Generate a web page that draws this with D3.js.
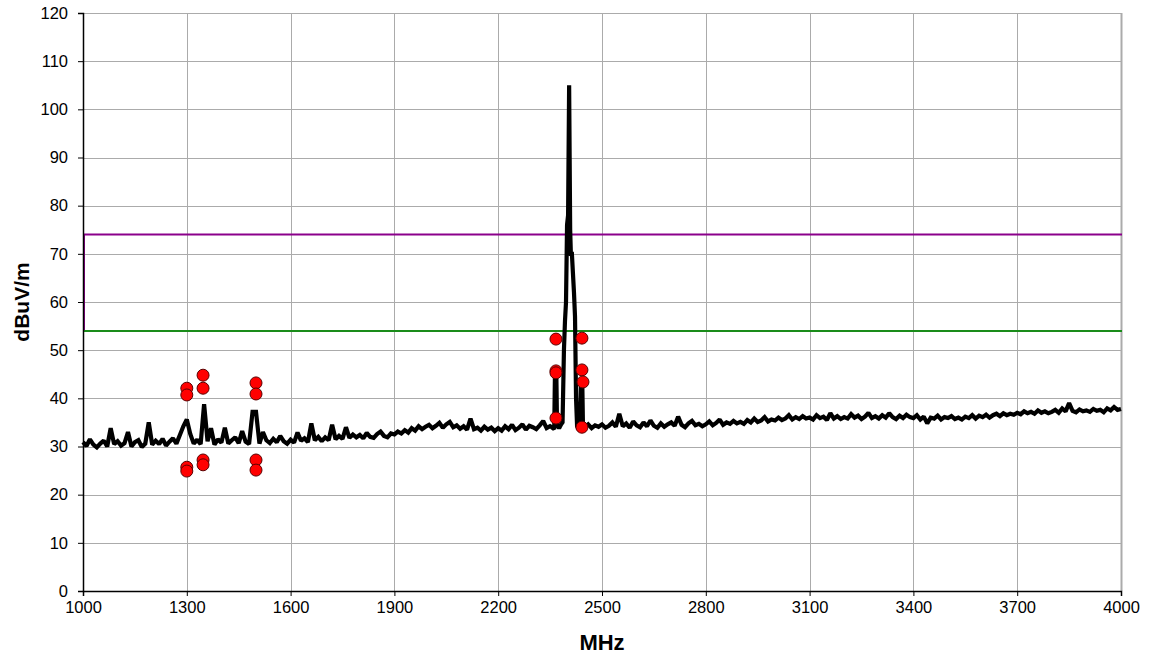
<!DOCTYPE html>
<html>
<head>
<meta charset="utf-8">
<script src="https://cdn.jsdelivr.net/npm/d3@7"></script>
<style>
    body { margin: 0; background: #fff; }
    #chart { width: 1156px; height: 659px; }
    .tick text { font-family: "Liberation Sans", Arial, sans-serif; font-size: 16.5px; fill: #000; }
    .axis-title { font-family: "Liberation Sans", Arial, sans-serif; font-weight: bold; text-anchor: middle; fill: #000; }
</style>
</head>
<body>
<div id="chart"></div>
<script>
// sweep levels (dBuV/m), one reading every 10 MHz from 1000 to 4000 MHz
const sweepStart = 1000;
const sweepStep = 10;
const sweepLevels = [
    30.9, 30.1, 31.5, 30.4, 29.8, 30.6, 31.2, 30.0, 33.8, 30.5,
    31.1, 30.2, 30.7, 33.0, 30.0, 30.9, 31.3, 29.9, 30.6, 35.0,
    30.4, 31.2, 30.5, 31.6, 30.2, 31.0, 31.7, 30.6, 32.4, 34.2,
    35.6, 32.6, 30.6, 31.4, 30.5, 38.8, 31.1, 33.8, 30.4, 31.5,
    30.8, 33.9, 30.6, 31.3, 31.9, 30.7, 33.2, 31.0, 30.5, 37.2,
    37.2, 30.6, 33.0, 31.3, 30.7, 31.6, 30.9, 32.2, 31.1, 30.6,
    31.4, 30.8, 32.9, 31.2, 31.7, 30.9, 34.8, 31.3, 32.0, 31.1,
    31.9, 31.3, 34.5, 31.5, 32.2, 31.6, 34.0, 31.8, 32.5, 31.9,
    32.4, 31.7, 32.8, 32.0, 31.8, 32.6, 33.1, 32.2, 31.9, 32.7,
    32.5, 33.1, 32.7, 33.4, 32.9, 33.8, 33.3, 34.2, 33.6, 34.1,
    34.5, 33.8, 34.3, 34.9, 33.9, 34.6, 35.1, 34.0, 34.4, 33.7,
    34.2, 33.5, 35.8, 33.6, 33.9, 33.3, 34.1, 33.5, 33.9, 33.2,
    33.8, 33.3, 34.2, 33.6, 34.5, 33.4, 33.9, 34.6, 33.5, 34.3,
    34.0, 33.6, 34.4, 35.3, 33.8, 34.2, 33.7, 34.0, 34.0, 34.0,
    34.0, 34.0, 34.0, 34.0, 34.0, 34.0, 34.6, 33.8, 34.4, 34.1,
    34.6, 33.9, 34.3, 35.0, 34.1, 36.8, 34.2, 34.8, 33.9, 35.2,
    34.4, 34.0, 35.0, 34.2, 35.4, 34.3, 33.9, 34.8, 34.1, 34.6,
    35.0, 34.3, 36.2, 34.5, 34.0, 34.8, 35.3, 34.4, 34.7, 34.2,
    34.6, 35.2, 34.4, 34.9, 35.6, 34.5, 35.0, 34.7, 35.3, 34.8,
    35.1, 34.7, 35.5, 35.0, 35.8, 35.1, 35.4, 36.1, 35.2, 35.6,
    35.4, 36.0, 35.5, 35.8, 36.5, 35.6, 36.1, 35.7, 36.3, 35.8,
    36.0, 35.6, 36.5, 35.9, 36.2, 35.5, 36.9, 35.8, 36.3, 35.7,
    36.1, 35.8, 36.7, 36.0, 36.4, 35.7, 36.2, 37.0, 35.9, 36.3,
    35.8, 36.5, 36.0, 36.9, 36.1, 35.7, 36.4, 35.9, 36.6, 36.1,
    35.9, 36.5, 35.6, 36.2, 34.8, 36.0, 35.8, 36.4, 35.6, 36.1,
    35.9, 36.3, 35.7, 36.0, 35.6, 36.2, 35.9, 36.5, 35.8, 36.4,
    36.1, 36.6, 36.0, 36.5, 36.8, 36.3, 36.9, 36.5, 36.8, 36.6,
    37.0, 36.7, 37.3, 36.9, 37.2, 36.8, 37.5, 37.0, 37.3, 36.9,
    37.2, 37.6, 37.0, 37.9, 37.3, 39.0, 37.4, 37.1, 37.7, 37.3,
    37.5, 37.2, 37.8, 37.4, 37.6, 37.1, 37.9, 37.5, 38.2, 37.6,
    37.8
];

// finer readings around the 2.4 GHz carrier (replace the sweep there)
const peakFreqs = [2355, 2362, 2364, 2368, 2370, 2376, 2382, 2386, 2390, 2393, 2396, 2399, 2402, 2405,
    2408, 2410, 2413, 2416, 2419, 2422, 2425, 2428, 2432, 2436, 2439, 2443, 2445, 2450];
const peakLevels = [34.0, 33.6, 45.0, 45.2, 34.5, 33.8, 34.6, 35.0, 50, 56, 60, 76, 78, 105,
    75, 70, 70, 66, 62, 57, 40, 34.2, 33.6, 34.0, 43.5, 43.3, 34.2, 34.0];

// measured emissions (red markers)
const markerFreqs = [1300, 1300, 1300, 1300, 1347, 1347, 1347, 1347, 1500, 1500, 1500, 1500,
    2367, 2367, 2367, 2367, 2442, 2442, 2445, 2442];
const markerLevels = [42.1, 40.7, 25.7, 24.9, 44.8, 42.1, 27.2, 26.2, 43.2, 40.9, 27.2, 25.1,
    52.3, 45.7, 45.3, 35.9, 52.5, 45.9, 43.4, 34.0];

// limit lines
const peakLimit = 74;
const avgLimit = 54;

const xTicks = [1000, 1300, 1600, 1900, 2200, 2500, 2800, 3100, 3400, 3700, 4000];
const yTicks = [0, 10, 20, 30, 40, 50, 60, 70, 80, 90, 100, 110, 120];

function renderChart() {
    const width = 1156;
    const height = 659;
    const margin = { left: 83, right: 35, top: 13, bottom: 68 };

    const svg = d3.select("#chart").append("svg")
        .attr("width", width)
        .attr("height", height);

    const xScale = d3.scaleLinear()
        .domain([1000, 4000])
        .range([margin.left, width - margin.right]);
    const yScale = d3.scaleLinear()
        .domain([0, 120])
        .range([height - margin.bottom, margin.top]);

    // grid
    svg.append("g")
        .selectAll("line")
        .data(yTicks.slice(1))
        .join("line")
        .attr("x1", margin.left)
        .attr("x2", width - margin.right)
        .attr("y1", d => Math.round(yScale(d)) + 0.5)
        .attr("y2", d => Math.round(yScale(d)) + 0.5)
        .attr("stroke", "#ababab")
        .attr("stroke-width", 1);
    svg.append("g")
        .selectAll("line")
        .data(xTicks.slice(1))
        .join("line")
        .attr("x1", d => Math.round(xScale(d)) + 0.5)
        .attr("x2", d => Math.round(xScale(d)) + 0.5)
        .attr("y1", margin.top)
        .attr("y2", height - margin.bottom)
        .attr("stroke", "#ababab")
        .attr("stroke-width", d => d == 4000 ? 2 : 1);

    // limit lines
    svg.append("path")
        .datum([[1000, avgLimit], [1000, peakLimit], [4000, peakLimit]])
        .attr("fill", "none")
        .attr("stroke", "#8b008b")
        .attr("stroke-width", 2)
        .attr("d", d3.line()
            .x(d => xScale(d[0]) + 1)
            .y(d => yScale(d[1])));
    svg.append("path")
        .datum([[1000, avgLimit], [4000, avgLimit]])
        .attr("fill", "none")
        .attr("stroke", "#1a8c1a")
        .attr("stroke-width", 2)
        .attr("d", d3.line()
            .x(d => xScale(d[0]) + 1)
            .y(d => yScale(d[1])));

    // trace
    let trace = [];
    sweepLevels.forEach((v, i) => {
        const f = sweepStart + i * sweepStep;
        if (f < peakFreqs[0] || f > peakFreqs[peakFreqs.length - 1]) {
            trace.push([f, v]);
        }
    });
    peakFreqs.forEach((f, i) => trace.push([f, peakLevels[i]]));
    trace.sort((a, b) => a[0] - b[0]);

    svg.append("path")
        .datum(trace)
        .attr("fill", "none")
        .attr("stroke", "#000")
        .attr("stroke-width", 4.2)
        .attr("stroke-linejoin", "miter")
        .attr("stroke-miterlimit", 1.5)
        .attr("d", d3.line()
            .x(d => xScale(d[0]))
            .y(d => yScale(d[1])));

    // markers
    svg.append("g")
        .selectAll("circle")
        .data(markerFreqs.map((f, i) => [f, markerLevels[i]]))
        .join("circle")
        .attr("cx", d => xScale(d[0]))
        .attr("cy", d => yScale(d[1]))
        .attr("r", 6)
        .attr("fill", "#ff0000")
        .attr("stroke", "#5a0000")
        .attr("stroke-width", 1);

    // axes
    const xAxis = svg.append("g")
        .attr("transform", `translate(0, ${height - margin.bottom})`)
        .call(d3.axisBottom(xScale).tickValues(xTicks).tickSize(5).tickPadding(5).tickFormat(d3.format("d")));
    const yAxis = svg.append("g")
        .attr("transform", `translate(${margin.left}, 0)`)
        .call(d3.axisLeft(yScale).tickValues(yTicks).tickSize(5).tickPadding(10));
    [xAxis, yAxis].forEach(a => {
        a.select(".domain").attr("stroke", "#000").attr("stroke-width", 1.5);
        a.selectAll(".tick line").attr("stroke", "#000");
    });
    yAxis.selectAll(".tick text").attr("dy", "0.32em");

    // axis titles
    svg.append("text")
        .attr("class", "axis-title")
        .attr("font-size", 22)
        .attr("transform", `translate(${(margin.left + width - margin.right) / 2}, ${height - 9})`)
        .text("MHz");
    svg.append("text")
        .attr("class", "axis-title")
        .attr("font-size", 21)
        .attr("transform", `translate(29, ${(margin.top + height - margin.bottom) / 2}) rotate(270)`)
        .text("dBuV/m");
}

renderChart();
</script>
</body>
</html>
